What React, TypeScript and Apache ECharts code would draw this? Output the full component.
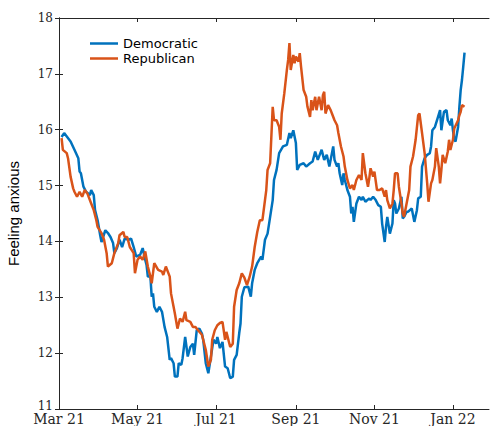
import React, { useEffect, useRef } from "react";
import * as echarts from "echarts";

// Days counted from 1 March 2021
const tickDays = [0, 61, 122, 184, 245, 306];
const tickLabels = ["Mar 21", "May 21", "Jul 21", "Sep 21", "Nov 21", "Jan 22"];
const yTicks = [11, 12, 13, 14, 15, 16, 17, 18];

const demDays = [2, 4, 9, 12, 15, 16, 17, 19, 21, 24, 25, 27, 28, 30, 32, 33, 36, 38, 40, 42, 43, 45, 47, 49, 51, 54, 56, 58, 60, 63, 65, 67, 68, 69, 71, 72, 73, 74, 76, 78, 80, 82, 84, 86, 87, 89, 90, 92, 93, 95, 96, 98, 100, 102, 104, 105, 107, 109, 111, 112, 114, 116, 118, 120, 122, 123, 125, 127, 129, 131, 133, 135, 136, 138, 140, 141, 142, 144, 147, 149, 150, 152, 154, 157, 158, 160, 162, 164, 166, 167, 169, 171, 174, 177, 179, 180, 182, 184, 185, 187, 190, 192, 195, 197, 199, 201, 203, 204, 206, 208, 210, 211, 213, 214, 216, 217, 218, 220, 221, 222, 224, 226, 227, 228, 229, 231, 233, 235, 236, 238, 241, 242, 244, 246, 248, 250, 251, 253, 254, 255, 257, 259, 260, 261, 262, 264, 266, 267, 268, 270, 271, 274, 276, 278, 279, 281, 282, 284, 286, 288, 289, 290, 292, 294, 296, 297, 299, 301, 302, 304, 305, 306, 307, 308, 310, 311, 312, 313, 314, 315];
const demValues = [15.87, 15.94, 15.79, 15.64, 15.49, 15.25, 15.22, 14.98, 14.89, 14.83, 14.92, 14.83, 14.56, 14.38, 14.11, 13.99, 14.2, 14.15, 14.08, 13.97, 13.79, 13.88, 14.03, 13.9, 14.05, 14.03, 14.05, 13.9, 13.73, 13.76, 13.88, 13.67, 13.58, 13.37, 13.37, 13.01, 13.07, 12.83, 12.74, 12.83, 12.74, 12.47, 12.29, 11.88, 11.91, 11.82, 11.58, 11.58, 11.82, 11.79, 11.91, 12.29, 11.94, 12.11, 12.17, 11.97, 12.41, 12.44, 12.35, 12.24, 11.82, 11.64, 11.94, 12.24, 12.17, 12.29, 12.09, 12.2, 11.76, 11.73, 11.55, 11.58, 11.88, 11.97, 12.36, 12.53, 13.01, 13.18, 13.19, 13.01, 13.25, 13.49, 13.61, 13.73, 13.67, 14.03, 14.14, 14.44, 14.74, 15.1, 15.28, 15.58, 15.7, 15.73, 15.94, 15.85, 15.99, 15.76, 15.28, 15.37, 15.4, 15.34, 15.4, 15.43, 15.61, 15.46, 15.58, 15.64, 15.46, 15.55, 15.34, 15.46, 15.7, 15.46, 15.34, 15.4, 15.22, 15.01, 15.22, 15.1, 14.92, 14.8, 14.5, 14.62, 14.35, 14.68, 14.8, 14.74, 14.8, 14.71, 14.77, 14.74, 14.8, 14.74, 14.65, 14.62, 14.32, 13.99, 14.26, 14.44, 14.14, 14.32, 14.74, 14.68, 14.5, 14.59, 14.8, 14.41, 14.44, 14.53, 14.53, 14.59, 14.35, 14.56, 14.77, 14.8, 15.34, 15.49, 15.55, 15.58, 15.7, 15.99, 16.05, 16.2, 16.35, 15.99, 16.32, 16.35, 16.17, 16.08, 16.2, 15.99, 15.82, 15.79, 16.05, 16.41, 16.71, 16.89, 17.13, 17.38];

const repDays = [2, 3, 6, 7, 9, 11, 12, 14, 16, 18, 20, 22, 25, 27, 29, 30, 33, 35, 37, 38, 41, 43, 46, 47, 50, 51, 53, 55, 58, 59, 61, 63, 65, 67, 69, 71, 72, 74, 77, 80, 81, 83, 86, 87, 89, 90, 92, 94, 96, 98, 99, 102, 104, 106, 108, 111, 112, 114, 116, 118, 119, 121, 123, 125, 127, 129, 130, 133, 135, 136, 138, 140, 142, 144, 146, 148, 150, 152, 154, 156, 158, 160, 161, 162, 164, 166, 167, 169, 171, 172, 173, 175, 177, 178, 179, 180, 182, 183, 184, 186, 187, 188, 190, 192, 193, 195, 196, 197, 199, 200, 202, 204, 205, 206, 207, 209, 211, 212, 214, 216, 217, 219, 221, 222, 224, 226, 228, 229, 231, 233, 235, 236, 238, 240, 241, 242, 244, 245, 247, 249, 251, 253, 254, 255, 257, 259, 260, 261, 263, 264, 266, 267, 268, 270, 272, 273, 275, 277, 279, 280, 282, 284, 286, 287, 289, 290, 292, 293, 295, 296, 297, 298, 300, 302, 303, 304, 306, 307, 310, 311, 312, 313, 315];
const repValues = [15.85, 15.64, 15.58, 15.49, 15.16, 14.95, 14.89, 14.8, 14.89, 14.8, 14.92, 14.86, 14.68, 14.56, 14.38, 14.26, 14.15, 14.03, 13.79, 13.55, 13.61, 13.79, 13.97, 14.11, 14.17, 14.08, 14.08, 13.9, 13.79, 13.43, 13.67, 13.73, 13.67, 13.82, 13.55, 13.37, 13.25, 13.61, 13.49, 13.46, 13.4, 13.55, 13.37, 13.07, 12.83, 12.71, 12.44, 12.62, 12.56, 12.74, 12.59, 12.56, 12.47, 12.47, 12.41, 12.33, 12.24, 12.06, 11.76, 11.88, 12.24, 12.41, 12.5, 12.54, 12.56, 12.24, 12.38, 12.11, 12.17, 12.83, 13.13, 13.25, 13.43, 13.35, 13.22, 13.36, 13.55, 13.9, 14.17, 14.38, 14.38, 14.74, 14.92, 15.28, 15.4, 16.41, 16.17, 16.17, 16.05, 15.82, 16.29, 16.65, 17.07, 17.25, 17.55, 17.07, 17.34, 17.19, 17.31, 17.22, 17.37, 17.13, 16.71, 16.59, 16.41, 16.23, 16.53, 16.35, 16.59, 16.35, 16.59, 16.35, 16.62, 16.68, 16.29, 16.44, 16.35, 16.29, 16.17, 16.08, 15.94, 15.7, 15.52, 15.34, 15.1, 14.95, 15.01, 14.92, 15.1, 15.19, 15.1, 15.58, 15.22, 14.98, 15.13, 15.31, 15.16, 15.25, 14.92, 14.92, 14.95, 14.8, 14.92, 14.74, 14.59, 14.68, 14.92, 15.22, 15.22, 14.98, 14.68, 14.5, 14.44, 14.68, 14.92, 15.34, 15.52, 15.82, 16.26, 16.29, 15.94, 15.58, 15.04, 14.71, 15.04, 15.1, 15.34, 15.67, 15.34, 15.04, 15.28, 15.55, 15.4, 15.61, 15.82, 15.64, 15.82, 16.02, 16.17, 16.26, 16.32, 16.44, 16.41];

const zip = (xs: number[], ys: number[]) => xs.map((x, i) => [x, ys[i]]);

export default function App() {
  const ref = useRef<HTMLDivElement>(null);
  useEffect(() => {
    if (!ref.current) return;
    const chart = echarts.init(ref.current, undefined, { renderer: "svg" });
    const axisColor = "#262626";
    const xMin = 0;
    const xMax = 334;
    const labelFor = (v: number) => {
      const i = tickDays.indexOf(v);
      return i >= 0 ? tickLabels[i] : "";
    };
    chart.setOption({
      animation: false,
      grid: { left: 59, right: 1, top: 18, bottom: 17, containLabel: false, outerBoundsMode: "none" },
      legend: {
        orient: "vertical",
        left: 90,
        top: 36,
        padding: 0,
        icon: "rect",
        itemWidth: 28,
        itemHeight: 2.5,
        itemGap: 0,
        textStyle: { fontFamily: "DejaVu Sans", fontSize: 13, color: "#000", lineHeight: 15 },
        data: ["Democratic", "Republican"],
      },
      xAxis: [
        {
          type: "value",
          min: xMin,
          max: xMax,
          position: "bottom",
          axisLine: { show: true, lineStyle: { color: axisColor, width: 1 } },
          axisTick: { show: true, inside: true, length: 4, customValues: tickDays, lineStyle: { color: axisColor } },
          axisLabel: {
            show: true,
            customValues: tickDays,
            formatter: (v: number) => labelFor(v),
            fontFamily: "DejaVu Serif",
            fontSize: 14,
            lineHeight: 14,
            color: "#262626",
            margin: 3,
          },
          splitLine: { show: false },
        },
        {
          type: "value",
          min: xMin,
          max: xMax,
          position: "top",
          axisLine: { show: true, lineStyle: { color: axisColor, width: 1 } },
          axisTick: { show: true, inside: true, length: 4, customValues: tickDays, lineStyle: { color: axisColor } },
          axisLabel: { show: false },
          splitLine: { show: false },
        },
      ],
      yAxis: [
        {
          type: "value",
          min: yTicks[0],
          max: yTicks[yTicks.length - 1],
          interval: 1,
          position: "left",
          name: "Feeling anxious",
          nameLocation: "middle",
          nameRotate: 90,
          nameGap: 38,
          nameTextStyle: { fontFamily: "Liberation Sans", fontSize: 15, color: "#000" },
          axisLine: { show: true, lineStyle: { color: axisColor, width: 1 } },
          axisTick: { show: true, inside: true, length: 4, lineStyle: { color: axisColor } },
          axisLabel: {
            fontFamily: "DejaVu Serif",
            fontSize: 12,
            lineHeight: 11,
            color: "#262626",
            margin: 6,
            formatter: (v: number) => (v === yTicks[0] ? "{low|" + v + "}" : String(v)),
            rich: {
              low: { fontFamily: "DejaVu Serif", fontSize: 12, lineHeight: 11, color: "#262626", padding: [0, 0, 6, 0] },
            },
          },
          splitLine: { show: false },
        },
        {
          type: "value",
          min: yTicks[0],
          max: yTicks[yTicks.length - 1],
          interval: 1,
          position: "right",
          axisLine: { show: true, lineStyle: { color: axisColor, width: 1 } },
          axisTick: { show: true, inside: true, length: 4, lineStyle: { color: axisColor } },
          axisLabel: { show: false },
          splitLine: { show: false },
        },
      ],
      series: [
        {
          name: "Democratic",
          type: "line",
          xAxisIndex: 0,
          yAxisIndex: 0,
          symbol: "none",
          lineStyle: { color: "#0072BD", width: 2.5 },
          itemStyle: { color: "#0072BD" },
          data: zip(demDays, demValues),
          z: 3,
        },
        {
          name: "Republican",
          type: "line",
          xAxisIndex: 0,
          yAxisIndex: 0,
          symbol: "none",
          lineStyle: { color: "#D95319", width: 2.5 },
          itemStyle: { color: "#D95319" },
          data: zip(repDays, repValues),
          z: 4,
        },
      ],
    });
    return () => chart.dispose();
  }, []);
  return (
    <div
      ref={ref}
      style={{ position: "absolute", left: 0, top: 0, width: 490, height: 426, background: "#fff" }}
    />
  );
}
